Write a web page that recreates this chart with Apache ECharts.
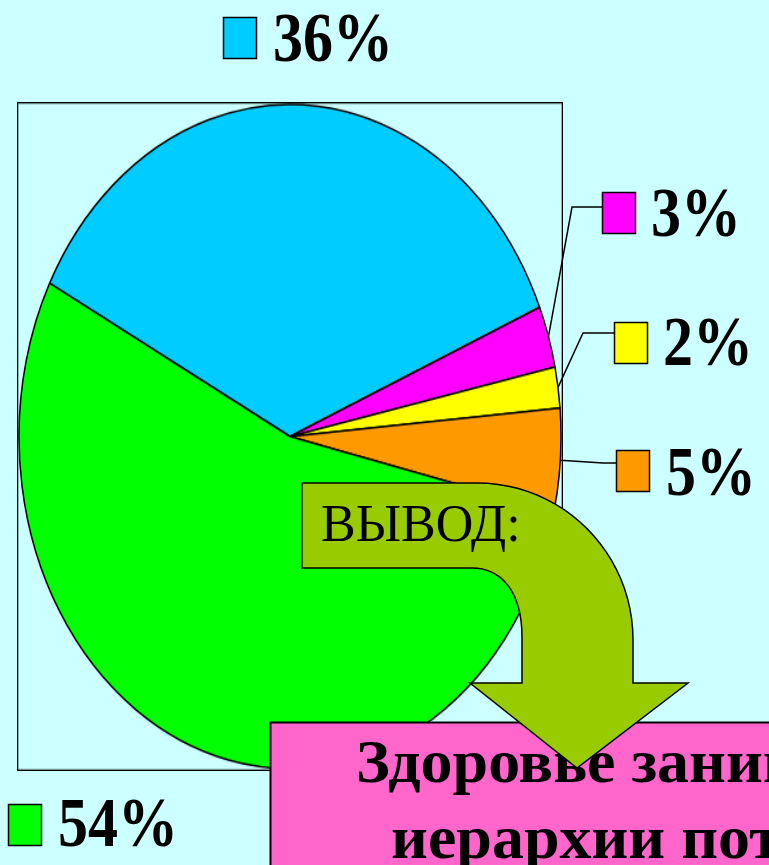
<!DOCTYPE html>
<html>
<head>
<meta charset="utf-8">
<script src="https://cdn.jsdelivr.net/npm/echarts@6/dist/echarts.min.js"></script>
<style>
  html, body { margin: 0; padding: 0; background: #ccffff; overflow: hidden; }
  #pie { position: absolute; left: 17px; top: 102px; width: 546px; height: 546px;
         transform-origin: 0 0; transform: scaleY(1.2253); }
  #top { position: absolute; left: 0; top: 0; width: 769px; height: 865px; }
</style>
</head>
<body>
<div id="pie"></div>
<div id="top"></div>
<script>
// данные диаграммы
var sliceNames = ['36%', '3%', '2%', '5%', '54%'];
var sliceValues = [36, 3, 2, 5, 54];
var sliceColors = ['#00ccff', '#ff00ff', '#ffff00', '#ff9900', '#00ff00'];
var startAngle = 152.5;

var noteLine1 = 'Здоровье занимает первое место в';
var noteLine2 = 'иерархии потребностей человека';
var arrowText = 'ВЫВОД:';

// pie is drawn in a square box and stretched vertically into an ellipse
var scaleY = 1.2253;
var pieChart = echarts.init(document.getElementById('pie'));
pieChart.setOption({
    animation: false,
    graphic: [{
        type: 'rect',
        shape: {x: 0.5, y: 0.5, width: 545, height: 545},
        style: {fill: 'none', stroke: '#000', lineWidth: 1.6}
    }],
    series: [{
        type: 'pie',
        center: ['50%', '50%'],
        radius: 271,
        startAngle: startAngle,
        clockwise: true,
        label: {show: false},
        labelLine: {show: false},
        itemStyle: {borderColor: '#000', borderWidth: 1.5},
        emphasis: {disabled: true},
        data: sliceValues.map(function (v, i) {
            return {name: sliceNames[i], value: v, itemStyle: {color: sliceColors[i]}};
        })
    }]
});

// ellipse on the page
var cx = 17 + 273, cy = 102 + 273 * scaleY, rx = 271, ry = 271 * scaleY;
var total = sliceValues.reduce(function (a, b) { return a + b; }, 0);
function edgePoint(i) {
    var before = 0;
    for (var k = 0; k < i; k++) before += sliceValues[k];
    var a = (startAngle - (before + sliceValues[i] / 2) / total * 360) * Math.PI / 180;
    return [cx + rx * Math.cos(a), cy - ry * Math.sin(a)];
}

// label layout: marker box, text left, text middle, leader elbow points
var labelLayout = [
    {box: [223, 17], tx: 273, ty: 43, line: null},
    {box: [602, 192], tx: 651, ty: 218, line: [[572, 207], [602, 207]]},
    {box: [614, 322], tx: 663, ty: 347, line: [[583, 333], [614, 333]]},
    {box: [616, 450], tx: 666, ty: 477, line: [[603, 463], [616, 463]]},
    {box: [8, 804], tx: 58, ty: 828, line: null}
];

var graphics = [];
labelLayout.forEach(function (L, i) {
    if (L.line) {
        graphics.push({
            type: 'polyline',
            shape: {points: [edgePoint(i)].concat(L.line)},
            style: {stroke: '#000', lineWidth: 1.5, fill: 'none'}
        });
    }
    graphics.push({
        type: 'rect',
        shape: {x: L.box[0] + 0.5, y: L.box[1] + 0.5, width: 33, height: 41},
        style: {fill: sliceColors[i], stroke: '#000', lineWidth: 1.5}
    });
    graphics.push({
        type: 'text',
        x: L.tx, y: L.ty,
        scaleY: 1.18,
        style: {
            text: sliceValues[i] + '%',
            font: 'bold 60px "Liberation Serif"',
            fill: '#000',
            align: 'left',
            verticalAlign: 'middle'
        }
    });
});

// pink note box
graphics.push({
    type: 'rect',
    shape: {x: 270.5, y: 722.5, width: 600, height: 200},
    style: {fill: '#ff66cc', stroke: '#000', lineWidth: 2}
});
graphics.push({
    type: 'text', x: 356, y: 766, scaleY: 0.95,
    style: {text: noteLine1, font: 'bold 64px "Liberation Serif"', fill: '#000',
            align: 'left', verticalAlign: 'middle'}
});
graphics.push({
    type: 'text', x: 391, y: 842, scaleY: 0.95,
    style: {text: noteLine2, font: 'bold 64px "Liberation Serif"', fill: '#000',
            align: 'left', verticalAlign: 'middle'}
});

// bent arrow, curves sampled from cubic beziers
function bez(p0, p1, p2, p3, n) {
    var out = [];
    for (var k = 1; k <= n; k++) {
        var t = k / n, u = 1 - t;
        out.push([
            u * u * u * p0[0] + 3 * u * u * t * p1[0] + 3 * u * t * t * p2[0] + t * t * t * p3[0],
            u * u * u * p0[1] + 3 * u * u * t * p1[1] + 3 * u * t * t * p2[1] + t * t * t * p3[1]
        ]);
    }
    return out;
}
var arrowPts = [[302, 483], [477, 483]]
    .concat(bez([477, 483], [563, 483], [633, 553], [633, 640], 24))
    .concat([[633, 683], [688, 683], [577, 768], [470, 683], [522, 683], [522, 637]])
    .concat(bez([522, 637], [522, 590], [500, 568], [472, 568], 16))
    .concat([[302, 568]]);
graphics.push({
    type: 'polygon',
    shape: {points: arrowPts},
    style: {fill: '#99cc00', stroke: '#000', lineWidth: 1.5}
});
graphics.push({
    type: 'text', x: 321, y: 527, scaleY: 1.02,
    style: {text: arrowText, font: '52px "Liberation Serif"', fill: '#000',
            align: 'left', verticalAlign: 'middle'}
});

var topChart = echarts.init(document.getElementById('top'));
topChart.setOption({
    animation: false,
    graphic: graphics
});
</script>
</body>
</html>
